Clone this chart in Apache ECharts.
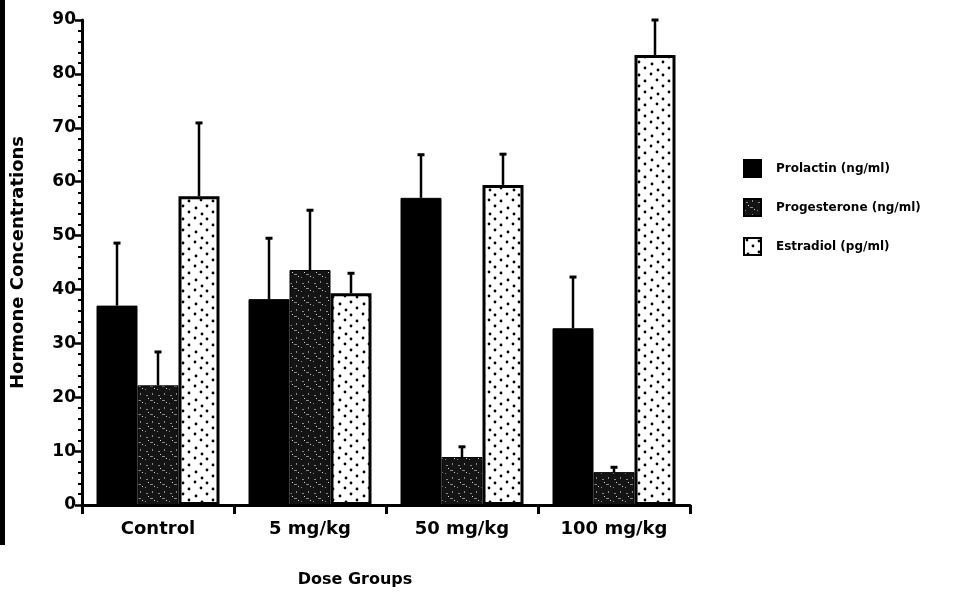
<!DOCTYPE html>
<html>
<head>
<meta charset="utf-8">
<script src="https://cdn.jsdelivr.net/npm/echarts@6/dist/echarts.min.js"></script>
<style>
  html, body { margin: 0; padding: 0; background: #fff; }
  #chart { width: 971px; height: 603px; }
</style>
</head>
<body>
<div id="chart"></div>
<script>
// Dose groups and hormone measurements (mean, with SD drawn as upward bar)
const categories = ['Control', '5 mg/kg', '50 mg/kg', '100 mg/kg'];
const seriesNames = ['Prolactin (ng/ml)', 'Progesterone (ng/ml)', 'Estradiol (pg/ml)'];
const prolactin = [37, 38.2, 57, 32.8];
const prolactinErr = [11.6, 11.3, 8, 9.5];
const progesterone = [22.2, 43.6, 8.9, 6.1];
const progesteroneErr = [6.2, 11.1, 1.9, 0.9];
const estradiol = [57.3, 39.3, 59.4, 83.5];
const estradiolErr = [13.6, 3.7, 5.7, 6.5];
const yTicks = [0, 10, 20, 30, 40, 50, 60, 70, 80, 90];

const FONT = '"DejaVu Sans", "Liberation Sans", Arial, sans-serif';

// Dark speckled fill used for progesterone
function speckPattern() {
  const c = document.createElement('canvas');
  c.width = 12; c.height = 14;
  const g = c.getContext('2d');
  g.fillStyle = '#141414';
  g.fillRect(0, 0, 12, 14);
  g.fillStyle = '#8a8a8a';
  g.fillRect(2, 3, 2, 1);
  g.fillRect(8, 1, 1, 2);
  g.fillRect(6, 8, 3, 1);
  g.fillRect(1, 11, 1, 1);
  g.fillStyle = '#d8d8d8';
  g.fillRect(10, 10, 1, 1);
  g.fillRect(4, 6, 1, 1);
  return c;
}

// White fill with diagonal rows of dots used for estradiol
function dotPattern() {
  const c = document.createElement('canvas');
  c.width = 24; c.height = 24;
  const g = c.getContext('2d');
  g.fillStyle = '#ffffff';
  g.fillRect(0, 0, 24, 24);
  g.fillStyle = '#000000';
  const pts = [[3, 2], [9, 8], [15, 14], [21, 20], [15, 3], [21, 9], [4, 16], [10, 22]];
  pts.forEach(p => { g.beginPath(); g.arc(p[0], p[1], 1.4, 0, Math.PI * 2); g.fill(); });
  return c;
}

const fills = [
  '#000000',
  { image: speckPattern(), repeat: 'repeat' },
  { image: dotPattern(), repeat: 'repeat' }
];
const values = [prolactin, progesterone, estradiol];
const errors = [prolactinErr, progesteroneErr, estradiolErr];
const BAR_W = 41;

const barSeries = values.map((vals, i) => ({
  name: seriesNames[i],
  type: 'bar',
  data: vals,
  barWidth: BAR_W,
  barGap: '0%',
  itemStyle: {
    color: fills[i],
    borderColor: '#000',
    borderWidth: i === 2 ? 3 : 1
  },
  z: 2
}));

// Upward error whiskers with a small cap, offset to sit on each bar
const errSeries = values.map((vals, i) => ({
  type: 'custom',
  name: seriesNames[i] + ' SD',
  data: vals.map((v, j) => [j, v, v + errors[i][j]]),
  z: 3,
  silent: true,
  renderItem: function (params, api) {
    const lo = api.coord([api.value(0), api.value(1)]);
    const hi = api.coord([api.value(0), api.value(2)]);
    const x = lo[0] + (i - 1) * BAR_W;
    const style = { stroke: '#000', lineWidth: 2.5 };
    return {
      type: 'group',
      children: [
        { type: 'line', shape: { x1: x, y1: lo[1], x2: x, y2: hi[1] }, style: style },
        { type: 'line', shape: { x1: x - 3.5, y1: hi[1], x2: x + 3.5, y2: hi[1] }, style: { stroke: '#000', lineWidth: 3 } }
      ]
    };
  }
}));

const chart = echarts.init(document.getElementById('chart'));
chart.setOption({
  backgroundColor: '#fff',
  animation: false,
  grid: { left: 82, right: 281, top: 20, bottom: 98 },
  legend: {
    data: seriesNames,
    orient: 'vertical',
    left: 738,
    top: 154,
    itemGap: 20,
    itemWidth: 17,
    itemHeight: 17,
    icon: 'rect',
    textStyle: { fontFamily: FONT, fontWeight: 'bold', fontSize: 12, color: '#000', padding: [0, 0, 0, 10] }
  },
  xAxis: {
    type: 'category',
    data: categories,
    name: 'Dose Groups',
    nameLocation: 'middle',
    nameGap: 67,
    nameTextStyle: { fontFamily: FONT, fontWeight: 'bold', fontSize: 16, color: '#000', padding: [0, 62, 0, 0] },
    axisLine: { lineStyle: { color: '#000', width: 3 } },
    axisTick: { show: true, length: 9, lineStyle: { color: '#000', width: 3 } },
    axisLabel: { fontFamily: FONT, fontWeight: 'bold', fontSize: 18, color: '#000', margin: 15 }
  },
  yAxis: {
    type: 'value',
    min: yTicks[0],
    max: yTicks[yTicks.length - 1],
    interval: 10,
    name: 'Hormone Concentrations',
    nameLocation: 'middle',
    nameGap: 55,
    nameTextStyle: { fontFamily: FONT, fontWeight: 'bold', fontSize: 18, color: '#000' },
    axisLine: { show: true, lineStyle: { color: '#000', width: 3 } },
    axisTick: { show: true, length: 7, lineStyle: { color: '#000', width: 2.5 } },
    minorTick: { show: true, splitNumber: 5, length: 4, lineStyle: { color: '#000', width: 2 } },
    splitLine: { show: false },
    axisLabel: { fontFamily: FONT, fontWeight: 'bold', fontSize: 17, color: '#000', margin: 6 }
  },
  graphic: [
    { type: 'rect', left: 0, top: 0, shape: { width: 5, height: 545 }, style: { fill: '#000' } }
  ],
  series: barSeries.concat(errSeries)
});
</script>
</body>
</html>
